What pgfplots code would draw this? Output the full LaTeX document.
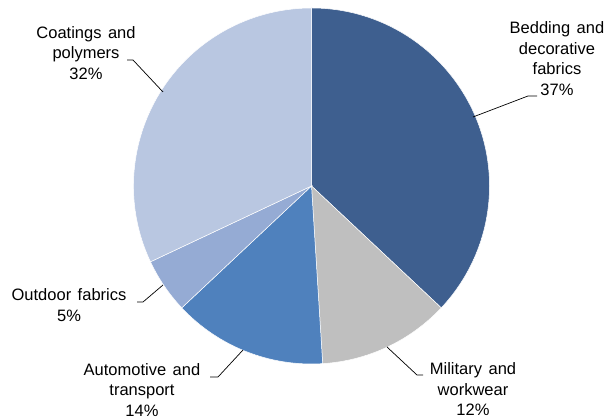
\documentclass[border=0pt]{standalone}
\usepackage{pgfplots}
\pgfplotsset{compat=1.18}
\usepackage{pgfplotstable}
\usepackage{fontspec}
\setmainfont{Liberation Sans}

\definecolor{c0}{HTML}{3E5F8F}
\definecolor{c1}{HTML}{BFBFBF}
\definecolor{c2}{HTML}{4F81BD}
\definecolor{c3}{HTML}{95ABD4}
\definecolor{c4}{HTML}{B9C7E1}

\newcommand\lblfont{\fontsize{16.5}{20.5}\selectfont\spaceskip=6.5pt plus 1pt\relax}

\pgfplotstableread[col sep=comma]{
label,value
Bedding,37
Military,12
Automotive,14
Outdoor,5
Coatings,32
}\piedata

\begin{document}
\begin{tikzpicture}
\gdef\acc{0}%
\pgfplotsforeachungrouped \i in {0,...,4}{%
  \pgfplotstablegetelem{\i}{value}\of\piedata
  \pgfmathsetmacro\sa{90-3.6*\acc}%
  \pgfmathsetmacro\newacc{\acc+\pgfplotsretval}%
  \pgfmathsetmacro\ea{90-3.6*\newacc}%
  \expandafter\xdef\csname sa\i\endcsname{\sa}%
  \expandafter\xdef\csname ea\i\endcsname{\ea}%
  \xdef\acc{\newacc}%
}%
\begin{axis}[
  scale only axis, width=610pt, height=419pt,
  xmin=0, xmax=610, ymin=0, ymax=419,
  hide axis, clip=false,
]
\pgfplotsinvokeforeach{0,...,4}{
  \fill[c#1, draw=white, line width=0.5pt] (axis cs:311.5,233) -- ++(\csname sa#1\endcsname:178pt)
    arc[start angle=\csname sa#1\endcsname, end angle=\csname ea#1\endcsname, radius=178pt] -- cycle;
}
\tikzset{lbl/.style={align=center, font=\lblfont, inner sep=0pt}}
\draw[black, line width=0.7pt] (axis cs:127,359) -- (axis cs:133,359) -- (axis cs:163,327);
\draw[black, line width=0.7pt] (axis cs:537,323) -- (axis cs:528,323) -- (axis cs:473,302);
\draw[black, line width=0.7pt] (axis cs:137,117) -- (axis cs:143,117) -- (axis cs:163,134);
\draw[black, line width=0.7pt] (axis cs:210,42) -- (axis cs:218,42) -- (axis cs:243,69);
\draw[black, line width=0.7pt] (axis cs:423,44) -- (axis cs:417,44) -- (axis cs:387,72);
\node[lbl] at (axis cs:86,366) {Coatings and\\polymers\\32\%};
\node[lbl] at (axis cs:557,360.5) {Bedding and\\decorative\\fabrics\\37\%};
\node[lbl] at (axis cs:69,114) {Outdoor fabrics\\5\%};
\node[lbl, anchor=south] at (axis cs:142,2.5) {Automotive and\\transport\\14\%};
\node[lbl, anchor=south] at (axis cs:473,3) {Military and\\workwear\\12\%};
\end{axis}
\pgfresetboundingbox
\useasboundingbox (0,0) rectangle (610pt,419pt);
\end{tikzpicture}
\end{document}
